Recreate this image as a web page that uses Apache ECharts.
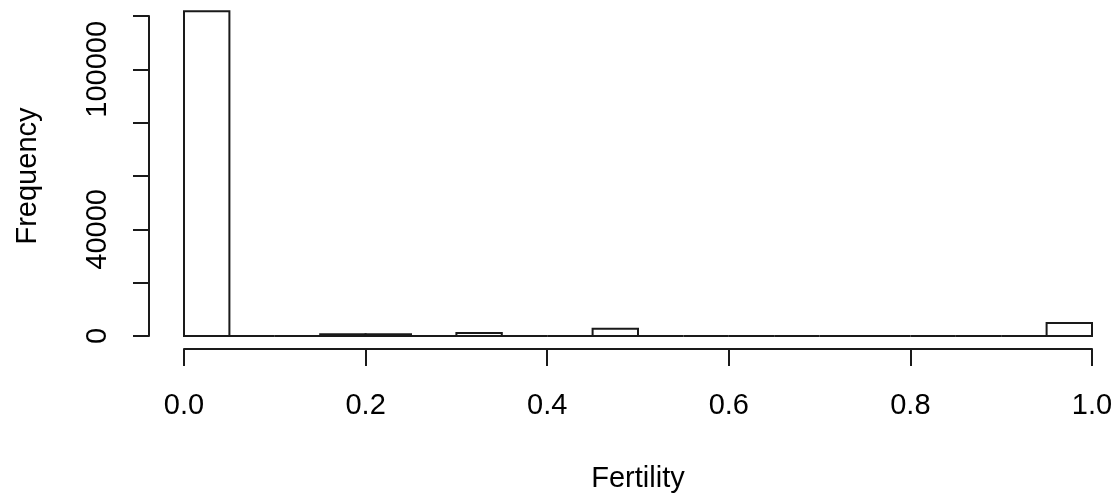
<!DOCTYPE html>
<html>
<head>
<meta charset="utf-8">
<script src="https://cdn.jsdelivr.net/npm/echarts@6/dist/echarts.min.js"></script>
<style>
  html, body { margin: 0; padding: 0; background: #ffffff; }
  #chart { width: 1119px; height: 498px; }
</style>
</head>
<body>
<div id="chart"></div>
<script>
// Histogram of fertility values, bins of width 0.05
const binLower = [0.00, 0.05, 0.10, 0.15, 0.20, 0.25, 0.30, 0.35, 0.40, 0.45,
                  0.50, 0.55, 0.60, 0.65, 0.70, 0.75, 0.80, 0.85, 0.90, 0.95];
const binUpper = [0.05, 0.10, 0.15, 0.20, 0.25, 0.30, 0.35, 0.40, 0.45, 0.50,
                  0.55, 0.60, 0.65, 0.70, 0.75, 0.80, 0.85, 0.90, 0.95, 1.00];
const counts   = [121800, 0, 0, 700, 700, 0, 1150, 0, 0, 2700,
                  0, 0, 0, 0, 0, 0, 0, 0, 0, 4900];
// Frequency ticks that carry a label
const yLabelled = [0, 40000, 100000];

const FONT = "'Liberation Sans', Arial, sans-serif";
const INK = '#1a1a1a';

const chart = echarts.init(document.getElementById('chart'), null, { renderer: 'canvas' });

const bins = binLower.map((lo, i) => [lo, binUpper[i], counts[i]]);

chart.setOption({
  animation: false,
  backgroundColor: '#ffffff',
  grid: { left: 184, right: 27, top: 16, bottom: 161, containLabel: false },
  xAxis: {
    type: 'value',
    min: 0, max: 1, interval: 0.2,
    offset: 13,
    splitLine: { show: false },
    axisLine: { show: true, onZero: false, lineStyle: { color: INK, width: 2 } },
    axisTick: { show: true, length: 17, lineStyle: { color: INK, width: 2 } },
    axisLabel: {
      margin: 42, color: '#000', fontFamily: FONT, fontSize: 29,
      formatter: v => v.toFixed(1)
    },
    name: 'Fertility',
    nameLocation: 'middle',
    nameGap: 115,
    nameTextStyle: { color: '#000', fontFamily: FONT, fontSize: 29 }
  },
  yAxis: {
    type: 'value',
    min: 0, max: 120000, interval: 20000,
    offset: 35,
    splitLine: { show: false },
    axisLine: { show: true, onZero: false, lineStyle: { color: INK, width: 2 } },
    axisTick: { show: true, length: 16, lineStyle: { color: INK, width: 2 } },
    axisLabel: {
      margin: 37, rotate: 90, color: '#000', fontFamily: FONT, fontSize: 29,
      formatter: v => (yLabelled.indexOf(v) >= 0 ? String(v) : '')
    },
    name: 'Frequency',
    nameLocation: 'middle',
    nameGap: 107,
    nameTextStyle: { color: '#000', fontFamily: FONT, fontSize: 29 }
  },
  series: [{
    type: 'custom',
    clip: false,
    data: bins,
    encode: { x: [0, 1], y: 2 },
    renderItem: function (params, api) {
      const p0 = api.coord([api.value(0), api.value(2)]);
      const p1 = api.coord([api.value(1), 0]);
      return {
        type: 'rect',
        shape: { x: p0[0], y: p0[1], width: p1[0] - p0[0], height: p1[1] - p0[1] },
        style: { fill: '#ffffff', stroke: INK, lineWidth: 2 }
      };
    }
  }]
});
</script>
</body>
</html>
